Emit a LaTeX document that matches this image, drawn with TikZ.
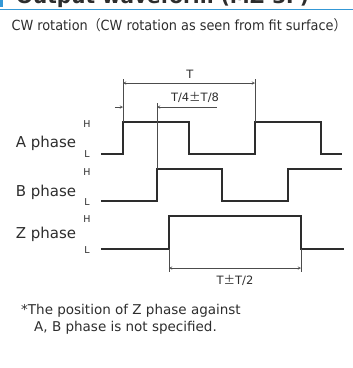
\documentclass[tikz,border=0pt]{standalone}
\usepackage{fontspec}
\setmainfont{DejaVu Sans}
\newfontfamily\cjk{Noto Sans CJK JP}
\usetikzlibrary{positioning}
\definecolor{headblue}{RGB}{52,152,214}
\definecolor{waveink}{RGB}{45,45,45}
\tikzset{
  wave line/.style={draw=waveink,line width=1.3pt,line join=miter},
  dim line/.style={draw=waveink!85,line width=0.45pt},
  dim arrow/.style={->,>=stealth,dim line},
  level label/.style={font=\fontsize{9.5}{10}\selectfont,text=waveink,inner sep=0pt},
  phase label/.style={font=\fontsize{15}{16}\selectfont,text=waveink,inner sep=0pt},
  dim label/.style={font=\fontsize{11.5}{12}\selectfont,text=waveink,inner sep=0pt},
  note text/.style={font=\fontsize{13.5}{14}\selectfont,text=waveink,inner sep=0pt,anchor=west}
}

\begin{document}
\begin{tikzpicture}[x=1pt,y=-1pt]
  \useasboundingbox (0,0) rectangle (353,368);
  % heading, cut off at the top
  \fill[headblue] (0,0) rectangle (3,7);
  \node[anchor=base west,inner sep=0pt,font=\fontsize{20}{22}\selectfont\bfseries,text=waveink] (head) at (16,3.5) {Output waveform (MZ-3F)};
  \draw[headblue,line width=1.5pt] (0,9.5) -- (353,9.5);
  \node[font=\fontsize{14}{15}\selectfont,text=waveink,inner sep=0pt,xscale=0.92] (title) at (179,25)
    {CW rotation{\cjk （}CW rotation as seen from fit surface{\cjk ）}};

  % phase names and levels
  \node[phase label] (aname) at (46,143) {A phase};
  \node[phase label] (bname) at (46,192) {B phase};
  \node[phase label] (zname) at (46,234) {Z phase};
  \node[level label] (ah) at (87,124) {H};
  \node[level label] (al) at (87,154) {L};
  \node[level label] (bh) at (87,172) {H};
  \node[level label] (bl) at (87,202) {L};
  \node[level label] (zh) at (87,219) {H};
  \node[level label] (zl) at (87,250) {L};

  % waveforms
  \draw[wave line] (101,154) -| (123,122) -| (189,154) -| (255,122) -| (321,154) -- (342,154);
  \draw[wave line] (101,201) -| (157,169) -| (222,201) -| (288,169) -- (342,169);
  \draw[wave line] (101,249) -| (169,216) -| (301,249) -- (344,249);

  % dimension T
  \coordinate (t1) at (123,79);
  \coordinate (t2) at (255,79);
  \draw[dim line] (t1) -- (123,122);
  \draw[dim line] (t2) -- (255,122);
  \coordinate (ta) at (123,83);
  \coordinate (tb) at (255,83);
  \draw[dim arrow,<->] (ta) -- (tb);
  \node[dim label] (tlabel) at (190,74) {T};

  % dimension T/4
  \draw[dim line] (157,103) -- (157,169);
  \coordinate (qa) at (115,107);
  \coordinate (qb) at (123,107);
  \coordinate (qc) at (157,107);
  \coordinate (qd) at (217,107);
  \draw[dim arrow] (qa) -- (qb);
  \draw[dim arrow] (qd) -- (qc);
  \node[dim label] (qlabel) at (195,97) {T/4{\cjk ±}T/8};

  % dimension of Z
  \draw[dim line] (169,249) -- (169,272);
  \draw[dim line] (301,249) -- (301,272);
  \coordinate (za) at (169,268);
  \coordinate (zb) at (301,268);
  \draw[dim arrow,<->] (za) -- (zb);
  \node[dim label] (zlabel) at (235,280) {T{\cjk ±}T/2};

  % note
  \node[note text] (note1) at (21,311) {*The position of Z phase against};
  \node[note text] (note2) at (34,328) {A, B phase is not specified.};
\end{tikzpicture}
\end{document}
